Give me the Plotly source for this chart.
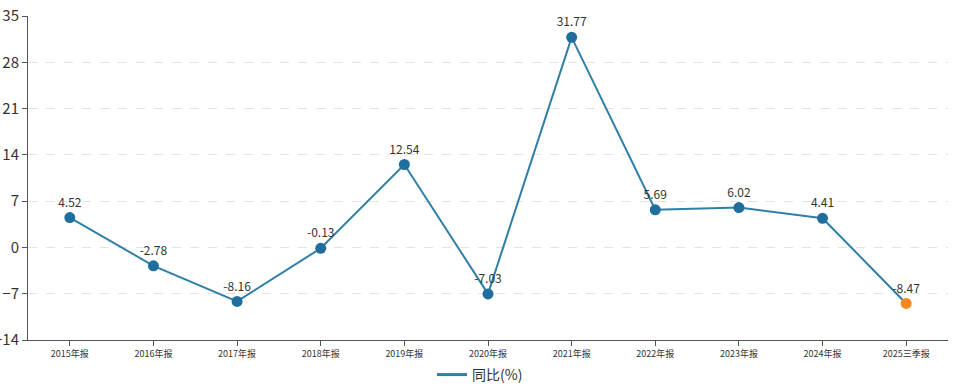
import plotly.graph_objects as go

categories = ["2015年报", "2016年报", "2017年报", "2018年报", "2019年报", "2020年报",
              "2021年报", "2022年报", "2023年报", "2024年报", "2025三季报"]
values = [4.52, -2.78, -8.16, -0.13, 12.54, -7.03, 31.77, 5.69, 6.02, 4.41, -8.47]
y_ticks = [-14, -7, 0, 7, 14, 21, 28, 35]

marker_colors = ["#1f6e9e"] * (len(values) - 1) + ["#f5871f"]

fig = go.Figure()
fig.add_trace(go.Scatter(
    x=categories, y=values, mode="lines+markers+text",
    name="同比(%)", showlegend=False,
    line=dict(color="#2f7fa6", width=2),
    marker=dict(size=11, color=marker_colors),
    text=[f"{v:.2f}" for v in values],
    textposition="top center",
    textfont=dict(size=12, color="#333333"),
    cliponaxis=False,
))
# legend entry (line only)
fig.add_trace(go.Scatter(
    x=[None], y=[None], mode="lines", name="同比(%)",
    line=dict(color="#2f7fa6", width=3),
))

fig.update_layout(
    width=960, height=385,
    margin=dict(l=28, r=12, t=16, b=45),
    paper_bgcolor="white", plot_bgcolor="white",
    font=dict(family="Noto Sans CJK SC, sans-serif", color="#333333"),
    showlegend=True,
    legend=dict(orientation="h", x=0.5, xanchor="center", xref="container",
                y=10 / 385, yanchor="middle", yref="container",
                font=dict(size=14, color="#333333")),
    xaxis=dict(
        type="category", automargin=False,
        range=[-0.5, len(categories) - 0.5],
        showline=True, linecolor="#555555", linewidth=1,
        ticks="outside", ticklen=5, tickcolor="#555555",
        tickfont=dict(size=9, color="#333333"),
        showgrid=False, zeroline=False,
    ),
    yaxis=dict(
        range=[-14, 35], tickvals=y_ticks, automargin=False,
        showline=True, linecolor="#555555", linewidth=1,
        ticks="outside", ticklen=5, tickcolor="#555555",
        tickfont=dict(size=15, color="#333333"),
        showgrid=True, gridcolor="#e3e3e3", griddash="dash",
        zeroline=False,
    ),
)

fig.write_html(
    "out.html",
    config={"displayModeBar": False},
    post_script="document.body.style.margin='0';document.body.style.overflow='hidden';",
)
